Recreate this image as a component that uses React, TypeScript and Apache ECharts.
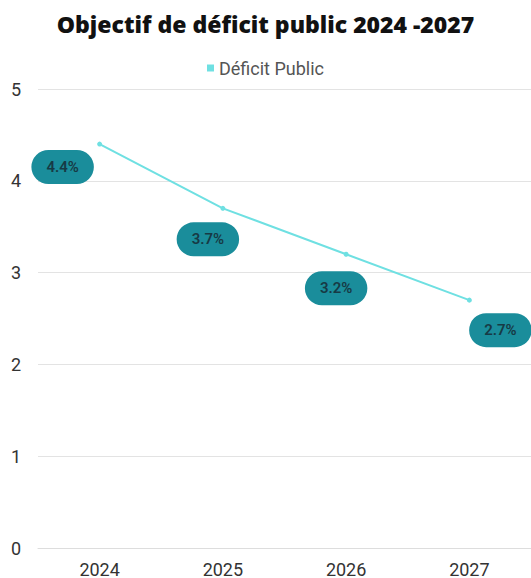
import React, { useEffect, useRef } from "react";
import * as echarts from "echarts";

const categories = ["2024", "2025", "2026", "2027"];
const deficit = [4.4, 3.7, 3.2, 2.7];
const labelTexts = ["4.4%", "3.7%", "3.2%", "2.7%"];
const labelOffsets: [number, number][] = [[-37, 23], [-15, 31], [-10, 34], [31, 30]];

export default function App() {
  const ref = useRef<HTMLDivElement>(null);
  useEffect(() => {
    document.body.style.margin = "0";
    if (!ref.current) return;
    const chart = echarts.init(ref.current, null, { renderer: "svg" });
    chart.setOption({
      animation: false,
      backgroundColor: "#ffffff",
      title: {
        text: "Objectif de déficit public 2024 -2027",
        left: "center",
        top: 7,
        textStyle: { fontFamily: "Open Sans", fontWeight: 800, fontSize: 23, color: "#111" },
      },
      legend: {
        top: 54,
        left: "center",
        icon: "rect",
        itemWidth: 7,
        itemHeight: 7,
        itemGap: 8,
        textStyle: { fontFamily: "Roboto", fontSize: 18, color: "#555" },
        data: ["Déficit Public"],
      },
      grid: { left: 38, right: -2, top: 89, bottom: 29, containLabel: false },
      xAxis: {
        type: "category",
        data: categories,
        axisLine: { lineStyle: { color: "#dddddd" } },
        axisTick: { show: false },
        axisLabel: { fontFamily: "Roboto", fontSize: 18, color: "#333", margin: 12 },
      },
      yAxis: {
        type: "value",
        min: 0,
        max: 5,
        interval: 1,
        splitLine: { lineStyle: { color: "#e3e3e3" } },
        axisLabel: { fontFamily: "Roboto", fontSize: 18, color: "#333", margin: 17 },
      },
      series: [
        {
          name: "Déficit Public",
          type: "line",
          data: deficit.map((v, i) => ({
            value: v,
            label: {
              offset: labelOffsets[i],
              formatter: labelTexts[i],
            },
          })),
          color: "#6fe0e2",
          lineStyle: { width: 2, color: "#6fe0e2" },
          symbol: "circle",
          symbolSize: 5,
          itemStyle: { color: "#6fe0e2" },
          label: {
            show: true,
            position: "inside",
            backgroundColor: "#1a8d9b",
            borderRadius: 17,
            padding: [10, 15, 9, 15],
            fontFamily: "Roboto",
            fontSize: 15,
            fontWeight: 600,
            color: "#173a45",
          },
        },
      ],
    });
    return () => chart.dispose();
  }, []);
  return <div ref={ref} style={{ width: 531, height: 578 }} />;
}
